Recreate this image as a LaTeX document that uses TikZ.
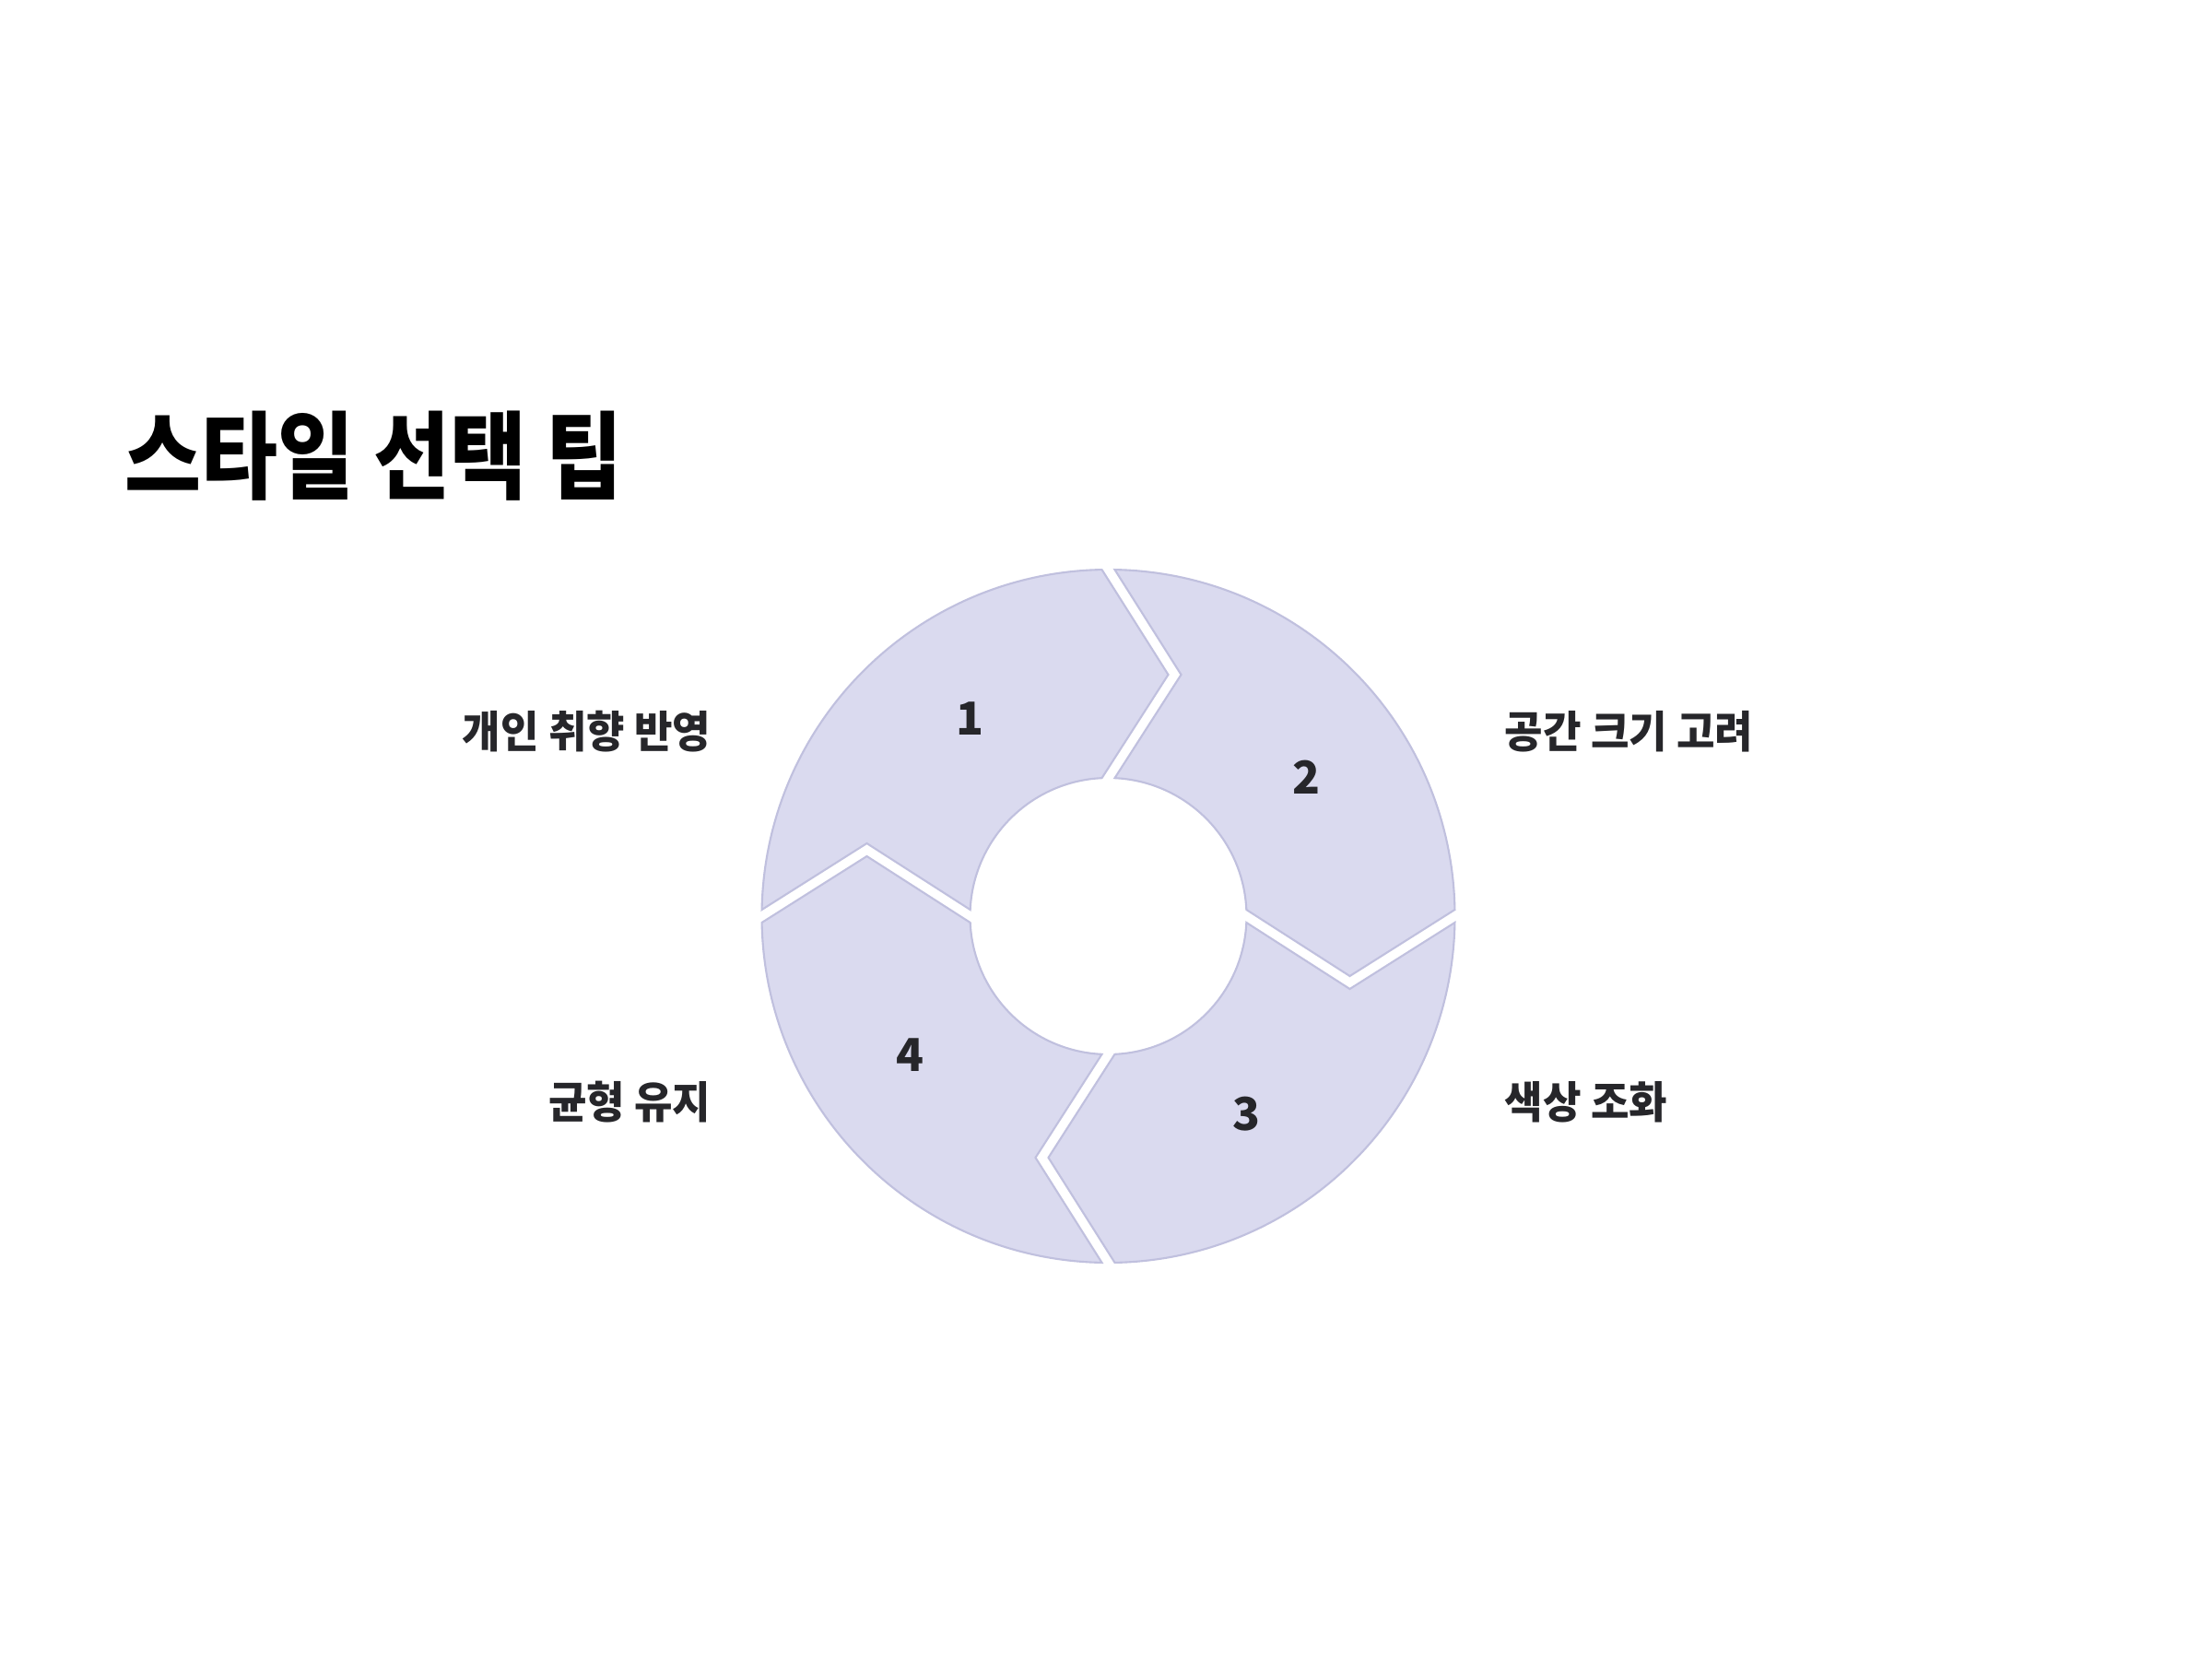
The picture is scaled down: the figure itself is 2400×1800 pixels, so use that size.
\documentclass[tikz,border=0pt]{standalone}
\usepackage{fontspec}
\setmainfont{Noto Sans CJK KR}
\usetikzlibrary{calc}
\definecolor{segfill}{RGB}{218,218,239}
\definecolor{segline}{RGB}{192,192,222}
\definecolor{txt}{RGB}{38,38,42}
\tikzset{
  seg/.style={fill=segfill, draw=segline, line width=0.6pt, line join=miter},
  lbl/.style={inner sep=0pt, text=txt, font=\fontsize{13.5}{16}\selectfont\bfseries},
  num/.style={inner sep=0pt, text=txt, font=\fontsize{14}{16}\selectfont\bfseries},
  ttl/.style={inner sep=0pt, text=black, font=\fontsize{29.5}{34}\selectfont\bfseries}
}
\begin{document}
\begin{tikzpicture}[x=0.01cm, y=-0.01cm]
\useasboundingbox (0,0) rectangle (2400,1800);
\fill[white] (0,0) rectangle (2400,1800);
\node[ttl, anchor=west] (title) at (135,495) {\scalebox{0.87}[1]{스타일 선택 팁}};
\begin{scope}[shift={(1202.5,994)}, yscale=-1]
  \def\Ro{376}\def\Ri{150}\def\Rm{262}
  \pgfmathsetmacro{\dO}{asin(7/376)}
  \pgfmathsetmacro{\dI}{asin(7/150)}
  \foreach \k in {0,1,2,3}{
    \pgfmathsetmacro{\ts}{180-90*\k}
    \pgfmathsetmacro{\te}{90-90*\k}
    \path[seg] (\ts-\dO:\Ro) arc[start angle=\ts-\dO, end angle=\te+\dO, radius=\Ro]
      -- ($(\te:\Rm)+(\te-90:65)$)
      -- (\te+\dI:\Ri) arc[start angle=\te+\dI, end angle=\ts-\dI, radius=\Ri]
      -- ($(\ts:\Rm)+(\ts-90:79)$) -- cycle;
  }
  \node[num] (n1) at (125:262) {1};
  \node[num] (n2) at (35:262) {2};
  \node[num] (n3) at (-55:262) {3};
  \node[num] (n4) at (-145:262) {4};
\end{scope}
\node[lbl, anchor=east] (l1) at (772,794) {\scalebox{0.95}[1]{개인 취향 반영}};
\node[lbl, anchor=west] (l2) at (1632,794) {\scalebox{0.95}[1]{공간 크기 고려}};
\node[lbl, anchor=west] (l3) at (1632,1196) {\scalebox{0.95}[1]{색상 조화}};
\node[lbl, anchor=east] (l4) at (772,1196) {\scalebox{0.95}[1]{균형 유지}};
\end{tikzpicture}
\end{document}
